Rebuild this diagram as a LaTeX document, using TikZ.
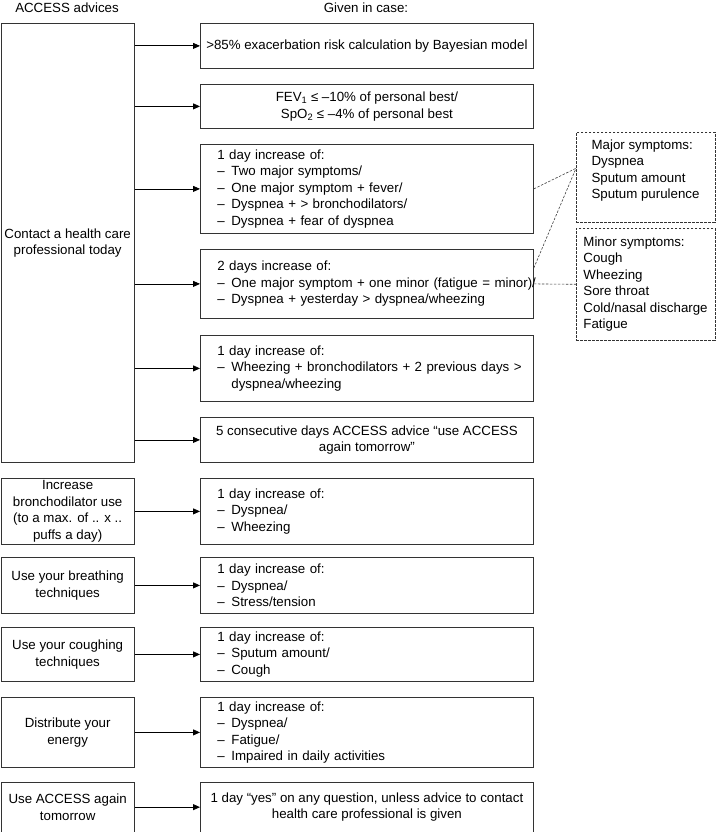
\documentclass[tikz,border=0pt]{standalone}
\usepackage{fontspec}
\setmainfont{Liberation Sans}
\usetikzlibrary{arrows.meta}

\newcommand{\itm}[1]{\mbox{\makebox[14pt][l]{--}#1}}

\begin{document}
\begin{tikzpicture}[x=1pt, y=-1pt,
		font=\fontsize{13.3}{16.5}\selectfont,
		advbox/.style={draw=black!80, line width=0.8pt, minimum width=133.5pt, inner sep=2pt, align=center, anchor=north west},
		casebox/.style={draw=black!80, line width=0.8pt, minimum width=333pt, inner sep=2pt, align=center, anchor=north west},
		caselist/.style={casebox, text width=299pt, inner xsep=17pt, align=left},
		symbox/.style={draw=black!80, line width=0.6pt, dash pattern=on 2.5pt off 1.5pt, minimum width=138.5pt, inner sep=2pt, align=left, anchor=north west},
		arr/.style={-{Triangle[length=7pt,width=6pt]}, line width=0.8pt},
		link/.style={draw=black!75, line width=0.6pt, dash pattern=on 2.5pt off 1.5pt}]
		\useasboundingbox (0,0) rectangle (715,832);

		% headers
		\node (hadv) at (67,8) {ACCESS advices};
		\node (hcase) at (366,8) {Given in case:};

		% advices
		\node[advbox, minimum height=439pt] (l0) at (0.5,23) {Contact a health care\\professional today};
		\node[advbox, minimum height=66pt] (l7) at (0.5,478) {Increase\\bronchodilator use\\(to a max. of .. x ..\\puffs a day)};
		\node[advbox, minimum height=56pt] (l8) at (0.5,557) {Use your breathing\\techniques};
		\node[advbox, minimum height=54pt] (l9) at (0.5,627) {Use your coughing\\techniques};
		\node[advbox, minimum height=70pt] (l10) at (0.5,697) {Distribute your\\energy};
		\node[advbox, minimum height=49.5pt] (l11) at (0.5,782) {Use ACCESS again\\tomorrow};

		% cases
		\node[casebox, minimum height=45pt] (r1) at (200,23) {>85\% exacerbation risk calculation by Bayesian model};
		\node[casebox, minimum height=44pt] (r2) at (200,84) {FEV\textsubscript{1} ≤ –10\% of personal best/\\SpO\textsubscript{2} ≤ –4\% of personal best};
		\node[caselist, minimum height=89pt] (r3) at (200,144) {1 day increase of:\\\itm{Two major symptoms/}\\\itm{One major symptom + fever/}\\\itm{Dyspnea + > bronchodilators/}\\\itm{Dyspnea + fear of dyspnea}};
		\node[caselist, minimum height=69pt] (r4) at (200,249) {2 days increase of:\\\itm{One major symptom + one minor (fatigue = minor)/}\\\itm{Dyspnea + yesterday > dyspnea/wheezing}};
		\node[caselist, minimum height=66pt] (r5) at (200,335) {1 day increase of:\\\itm{Wheezing + bronchodilators + 2 previous days >}\\\mbox{\hspace{14pt}dyspnea/wheezing}};
		\node[casebox, minimum height=45pt] (r6) at (200,417) {5 consecutive days ACCESS advice “use ACCESS\\again tomorrow”};
		\node[caselist, minimum height=66pt] (r7) at (200,478) {1 day increase of:\\\itm{Dyspnea/}\\\itm{Wheezing}};
		\node[caselist, minimum height=56pt] (r8) at (200,557) {1 day increase of:\\\itm{Dyspnea/}\\\itm{Stress/tension}};
		\node[caselist, minimum height=54pt] (r9) at (200,627) {1 day increase of:\\\itm{Sputum amount/}\\\itm{Cough}};
		\node[caselist, minimum height=70pt] (r10) at (200,697) {1 day increase of:\\\itm{Dyspnea/}\\\itm{Fatigue/}\\\itm{Impaired in daily activities}};
		\node[casebox, minimum height=49.5pt] (r11) at (200,782) {1 day “yes” on any question, unless advice to contact\\health care professional is given};

		% symptoms
		\node[symbox, minimum height=90pt] (major) at (576,132) {Major symptoms:\\Dyspnea\\Sputum amount\\Sputum purulence\\\mbox{}};
		\node[symbox, minimum height=112pt] (minor) at (576,228) {Minor symptoms:\\Cough\\Wheezing\\Sore throat\\Cold/nasal discharge\\Fatigue};

		% arrows
		\foreach \r in {r1,r2,r3,r4,r5,r6}
			\draw[arr] (l0.east |- \r.west) -- (\r.west);
		\foreach \i in {7,...,11}
			\draw[arr] (l\i.east) -- (r\i.west);

		% dashed links
		\coordinate (mjin) at ([yshift=9pt]major.west);
		\draw[link] (r3.east) -- (mjin);
		\draw[link] ([yshift=-19pt]r4.north east) -- (mjin);
		\draw[link] (r4.east) -- (minor.west);
\end{tikzpicture}
\end{document}
